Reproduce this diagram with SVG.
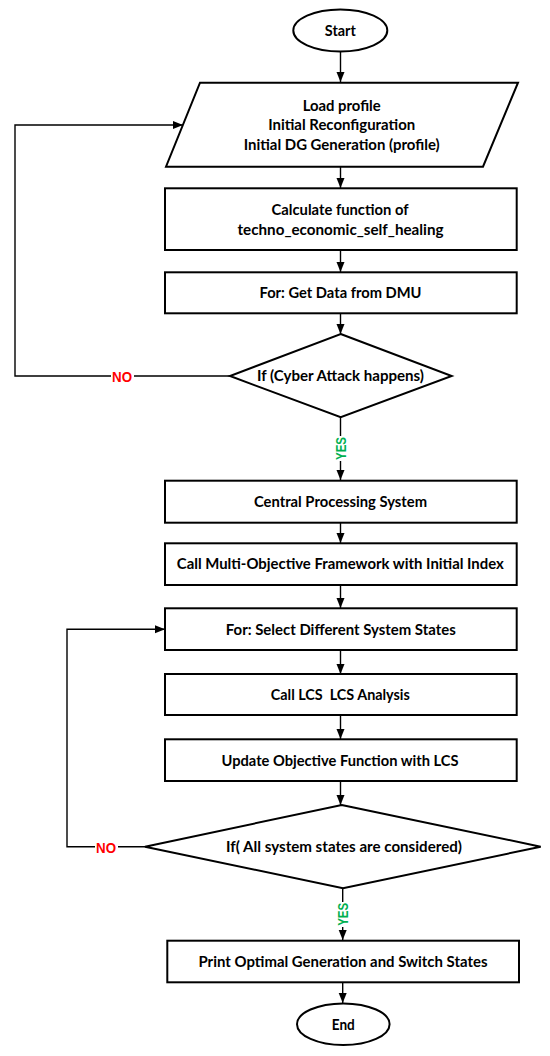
<svg xmlns="http://www.w3.org/2000/svg" width="550" height="1056" viewBox="0 0 550 1056">
<defs>
<marker id="arr" markerUnits="userSpaceOnUse" markerWidth="10" markerHeight="10" viewBox="0 0 10 10" refX="10" refY="5" orient="auto">
<path d="M0,1 L10,5 L0,9 Z" fill="#000"/>
</marker>
<style>
.shape{fill:#fff;stroke:#000;stroke-width:2}
.conn{fill:none;stroke:#000;stroke-width:1.4}
.t{font-family:Lato,"Liberation Sans",sans-serif;font-weight:bold;font-size:15px;fill:#000;text-anchor:middle}
.no{font-family:"Liberation Sans",Arial,sans-serif;font-weight:bold;font-size:15px;fill:#ff0000;text-anchor:middle}
.yes{font-family:"Liberation Sans",Arial,sans-serif;font-weight:bold;font-size:14px;fill:#00b050;text-anchor:middle}
</style>
</defs>
<rect width="550" height="1056" fill="#fff"/>

<g id="connectors">
<line class="conn" x1="340.5" y1="52" x2="340.5" y2="82" marker-end="url(#arr)"/>
<line class="conn" x1="340.5" y1="167" x2="340.5" y2="188" marker-end="url(#arr)"/>
<line class="conn" x1="340.5" y1="250" x2="340.5" y2="272" marker-end="url(#arr)"/>
<line class="conn" x1="340.5" y1="313" x2="340.5" y2="334" marker-end="url(#arr)"/>
<line class="conn" x1="340.5" y1="417" x2="340.5" y2="480" marker-end="url(#arr)"/>
<polyline class="conn" points="230,376 15,376 15,125 183,125" marker-end="url(#arr)"/>
<line class="conn" x1="340.5" y1="522" x2="340.5" y2="543" marker-end="url(#arr)"/>
<line class="conn" x1="340.5" y1="585" x2="340.5" y2="608" marker-end="url(#arr)"/>
<line class="conn" x1="340.5" y1="650" x2="340.5" y2="674" marker-end="url(#arr)"/>
<line class="conn" x1="340.5" y1="715" x2="340.5" y2="739" marker-end="url(#arr)"/>
<line class="conn" x1="340.5" y1="781" x2="340.5" y2="805" marker-end="url(#arr)"/>
<polyline class="conn" points="145,846.7 67,846.7 67,629.3 165,629.3" marker-end="url(#arr)"/>
<line class="conn" x1="342.7" y1="888" x2="342.7" y2="940" marker-end="url(#arr)"/>
<line class="conn" x1="342.7" y1="982" x2="342.7" y2="1003" marker-end="url(#arr)"/>
<rect x="111" y="369" width="23" height="15" fill="#fff"/>
<text class="no" x="122" y="382" textLength="20" lengthAdjust="spacingAndGlyphs">NO</text>
<rect x="95" y="839" width="23" height="15" fill="#fff"/>
<text class="no" x="106" y="852.5" textLength="20" lengthAdjust="spacingAndGlyphs">NO</text>
<rect x="334" y="436" width="13" height="25" fill="#fff"/>
<text class="yes" transform="translate(345.7,448.5) rotate(-90)" x="0" y="0" textLength="23" lengthAdjust="spacingAndGlyphs">YES</text>
<rect x="336" y="902" width="13" height="25" fill="#fff"/>
<text class="yes" transform="translate(347.9,914.3) rotate(-90)" x="0" y="0" textLength="23" lengthAdjust="spacingAndGlyphs">YES</text>
</g>

<g id="start">
<ellipse class="shape" cx="340.3" cy="30.5" rx="47" ry="21"/>
<text class="t" x="340.3" y="35.8" textLength="31" lengthAdjust="spacingAndGlyphs">Start</text>
</g>

<g id="load-profile">
<polygon class="shape" points="200,82.7 518,82.7 483,166.7 166,166.7"/>
<text class="t" x="341.7" y="111.3" textLength="78" lengthAdjust="spacingAndGlyphs">Load profile</text>
<text class="t" x="341.7" y="130.3" textLength="147" lengthAdjust="spacingAndGlyphs">Initial Reconfiguration</text>
<text class="t" x="341.7" y="149.6" textLength="196" lengthAdjust="spacingAndGlyphs">Initial DG Generation (profile)</text>
</g>

<g id="calculate">
<rect class="shape" x="165" y="188.3" width="351.7" height="61.7"/>
<text class="t" x="340" y="215.3" textLength="137" lengthAdjust="spacingAndGlyphs">Calculate function of</text>
<text class="t" x="340.5" y="234.6" textLength="206" lengthAdjust="spacingAndGlyphs">techno_economic_self_healing</text>
</g>

<g id="get-data">
<rect class="shape" x="165" y="272.3" width="351.7" height="41"/>
<text class="t" x="340.5" y="297.6" textLength="162" lengthAdjust="spacingAndGlyphs">For: Get Data from DMU</text>
</g>

<g id="cyber-attack">
<polygon class="shape" points="340.7,334 451.7,376 340.7,417.3 230,376"/>
<text class="t" x="340.5" y="381.3" textLength="167" lengthAdjust="spacingAndGlyphs">If (Cyber Attack happens)</text>
</g>

<g id="central-processing">
<rect class="shape" x="165" y="480.7" width="351.7" height="42"/>
<text class="t" x="340.5" y="507" textLength="173" lengthAdjust="spacingAndGlyphs">Central Processing System</text>
</g>

<g id="multi-objective">
<rect class="shape" x="165" y="543.3" width="351.7" height="41.7"/>
<text class="t" x="340.3" y="569.3" textLength="327" lengthAdjust="spacingAndGlyphs">Call Multi-Objective Framework with Initial Index</text>
</g>

<g id="select-states">
<rect class="shape" x="165" y="608.3" width="351.7" height="41.7"/>
<text class="t" x="340.8" y="634.6" textLength="230" lengthAdjust="spacingAndGlyphs">For: Select Different System States</text>
</g>

<g id="lcs-analysis">
<rect class="shape" x="165" y="674" width="351.7" height="41"/>
<text class="t" x="340.3" y="700.3" textLength="139" lengthAdjust="spacingAndGlyphs" xml:space="preserve" style="white-space:pre">Call LCS  LCS Analysis</text>
</g>

<g id="update-objective">
<rect class="shape" x="165" y="739.3" width="351.7" height="41.7"/>
<text class="t" x="340" y="766.3" textLength="237" lengthAdjust="spacingAndGlyphs">Update Objective Function with LCS</text>
</g>

<g id="all-states">
<polygon class="shape" points="341.7,805 540.7,846.7 343,888.3 145,846.7"/>
<text class="t" x="344" y="852" textLength="236" lengthAdjust="spacingAndGlyphs">If( All system states are considered)</text>
</g>

<g id="print-optimal">
<rect class="shape" x="167.3" y="940.7" width="351.7" height="41.6"/>
<text class="t" x="343" y="967" textLength="289" lengthAdjust="spacingAndGlyphs">Print Optimal Generation and Switch States</text>
</g>

<g id="end">
<ellipse class="shape" cx="343.3" cy="1024.2" rx="46.3" ry="20.8"/>
<text class="t" x="343.3" y="1029.5" textLength="23" lengthAdjust="spacingAndGlyphs">End</text>
</g>
</svg>
